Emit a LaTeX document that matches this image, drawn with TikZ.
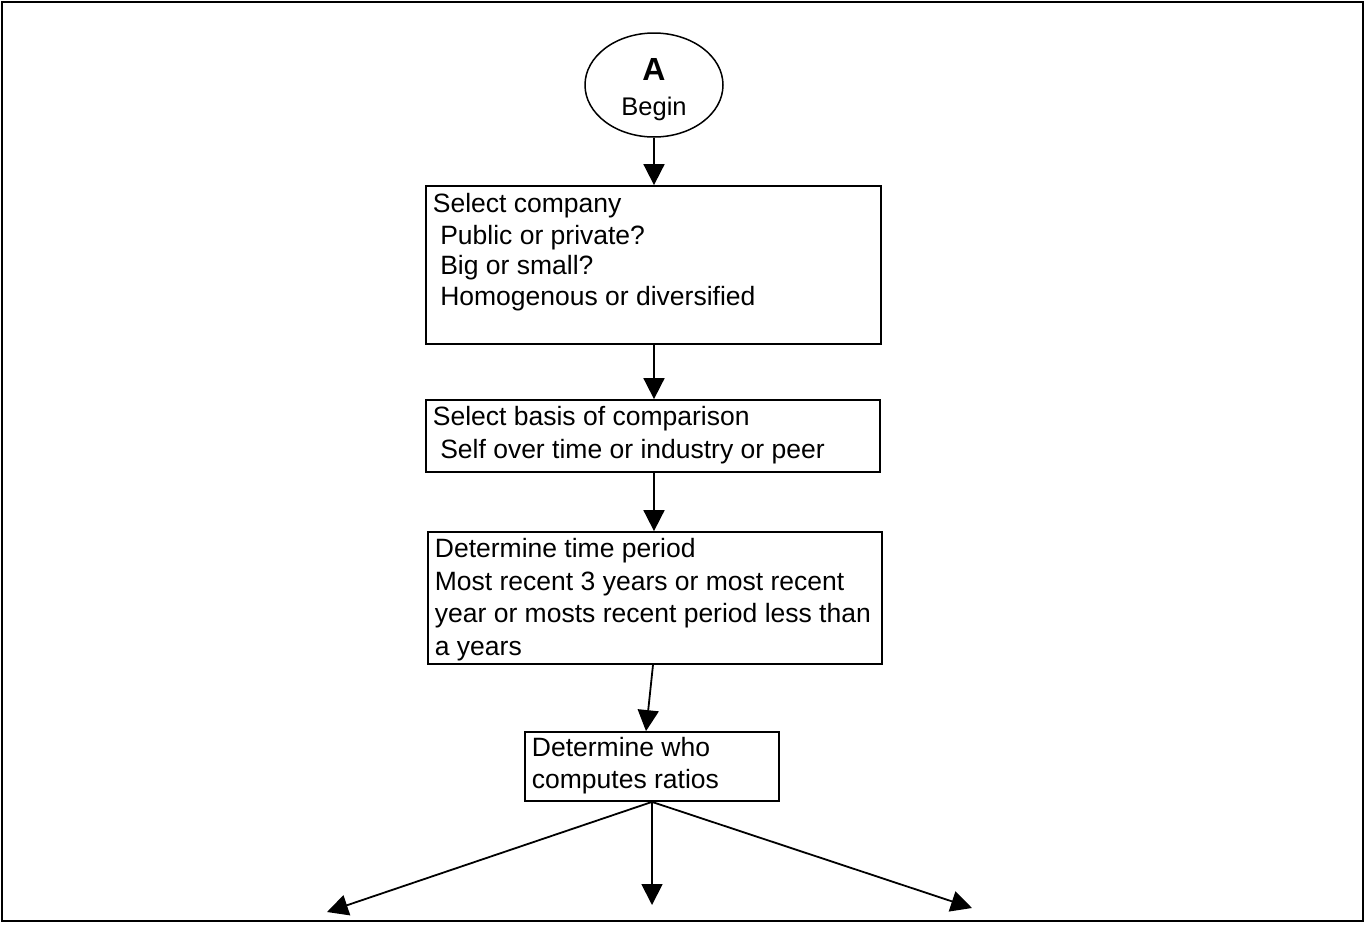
\documentclass[tikz,border=0pt]{standalone}
\usepackage{fontspec}
\setmainfont{Liberation Sans}
\usetikzlibrary{arrows.meta,shapes.geometric}
\begin{document}
\begin{tikzpicture}[x=1pt,y=-1pt,
  line width=1.8pt,
  box/.style={draw,rectangle,inner sep=0pt,line width=1.8pt},
  txt/.style={anchor=base west,inner sep=0pt,font=\fontsize{26.5}{30}\selectfont},
  arr/.style={-{Triangle[length=21pt,width=21pt]},line width=1.8pt}]
\useasboundingbox (0,0) rectangle (1365,924);
\draw[line width=1.8pt] (2,2) rectangle (1363,921);
% start ellipse
\node[draw,ellipse,minimum width=138pt,minimum height=104pt,inner sep=0pt,line width=1.5pt] (e) at (654,85) {};
\node[anchor=base,inner sep=0pt,font=\fontsize{32}{32}\selectfont\bfseries] (eA) at (654,80) {A};
\node[anchor=base,inner sep=0pt,font=\fontsize{25.5}{30}\selectfont] (eB) at (654,115) {Begin};
% boxes
\node[box,minimum width=455pt,minimum height=158pt] (b1) at (653.5,265) {};
\node[box,minimum width=454pt,minimum height=72pt] (b2) at (653,436) {};
\node[box,minimum width=454pt,minimum height=132pt] (b3) at (655,598) {};
\node[box,minimum width=254pt,minimum height=69pt] (b4) at (652,766.5) {};
% texts
\node[txt] (t11) at (432,212) {Select company};
\node[txt] (t12) at (432,244) {\ Public or private?};
\node[txt] (t13) at (432,274) {\ Big or small?};
\node[txt] (t14) at (432,305) {\ Homogenous or diversified};
\node[txt] (t21) at (432,425) {Select basis of comparison};
\node[txt] (t22) at (432,458) {\ Self over time or industry or peer};
\node[txt] (t31) at (434,557) {Determine time period};
\node[txt] (t32) at (434,590) {Most recent 3 years or most recent};
\node[txt] (t33) at (434,622) {year or mosts recent period less than};
\node[txt] (t34) at (434,655) {a years};
\node[txt] (t41) at (531,756) {Determine who};
\node[txt] (t42) at (531,788) {computes ratios};
% connectors
\draw[arr] (e.south) -- (e.south |- b1.north);
\draw[arr] (e.south |- b1.south) -- (e.south |- b2.north);
\draw[arr] (e.south |- b2.south) -- (e.south |- b3.north);
\draw[arr] ([xshift=-2pt]b3.south) -- ([xshift=-6pt]b4.north);
\coordinate (L) at (327,912);
\coordinate (M) at (652,905);
\coordinate (R) at (972,908);
\draw[arr] (b4.south) -- (L);
\draw[arr] (b4.south) -- (M);
\draw[arr] (b4.south) -- (R);
\end{tikzpicture}
\end{document}
